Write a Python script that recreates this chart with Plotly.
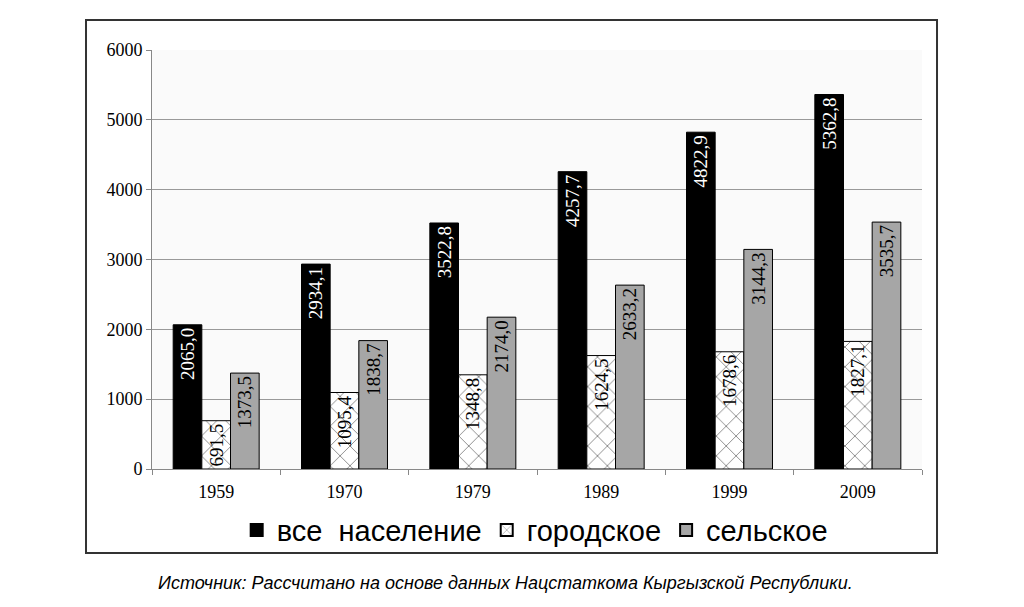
import plotly.graph_objects as go

years = ["1959", "1970", "1979", "1989", "1999", "2009"]
total = [2065.0, 2934.1, 3522.8, 4257.7, 4822.9, 5362.8]
urban = [691.5, 1095.4, 1348.8, 1624.5, 1678.6, 1827.1]
rural = [1373.5, 1838.7, 2174.0, 2633.2, 3144.3, 3535.7]
y_ticks = [0, 1000, 2000, 3000, 4000, 5000, 6000]

def fmt(v):
    return f"{v:.1f}".replace(".", ",")

serif = "Liberation Serif, Times New Roman, serif"
sans = "Liberation Sans, Arial, sans-serif"

fig = go.Figure()
fig.add_bar(name="все  население", x=years, y=total, text=[fmt(v) for v in total],
            marker=dict(color="black", line=dict(color="black", width=1)),
            textfont=dict(color="white", family=serif, size=19))
fig.add_bar(name="городское", x=years, y=urban, text=[fmt(v) for v in urban],
            marker=dict(color="white", line=dict(color="black", width=1),
                        pattern=dict(shape="x", fgcolor="black", bgcolor="white", size=14, solidity=0.12)),
            textfont=dict(color="black", family=serif, size=19))
fig.add_bar(name="сельское", x=years, y=rural, text=[fmt(v) for v in rural],
            marker=dict(color="#a6a6a6", line=dict(color="black", width=1)),
            textfont=dict(color="black", family=serif, size=19))

fig.update_traces(textposition="inside", textangle=-90, insidetextanchor="end",
                  cliponaxis=False)

fig.update_layout(
    width=1024, height=607,
    margin=dict(l=144, r=110, t=42, b=146),
    paper_bgcolor="white", plot_bgcolor="#fafafa",
    barmode="group", bargap=0.33, bargroupgap=0,
    uniformtext=dict(minsize=19, mode="show"),
    showlegend=True,
    legend=dict(orientation="h", x=0.497, xanchor="center", y=-0.146, yanchor="middle",
                font=dict(family=sans, size=29, color="black"), bgcolor="rgba(0,0,0,0)",
                itemsizing="constant"),
    xaxis=dict(type="category", tickson="boundaries", ticks="outside", ticklen=5,
               tickcolor="#888888", showline=True, linecolor="#888888", linewidth=1,
               ticklabelstandoff=6,
               tickfont=dict(family=serif, size=18, color="black"), showgrid=False),
    yaxis=dict(range=[0, 6000], tickvals=y_ticks, ticks="outside", ticklen=5,
               tickcolor="#888888", showline=True, linecolor="#888888", linewidth=1,
               gridcolor="#999999", gridwidth=1, zeroline=False,
               tickfont=dict(family=serif, size=18, color="black")),
    shapes=[dict(type="rect", xref="paper", yref="paper", x0=-0.0857, x1=1.0195,
                 y0=-0.2005, y1=1.0716, line=dict(color="#333333", width=2))],
    annotations=[dict(text="<i>Источник: Рассчитано на основе данных Нацстаткома Кыргызской Республики.</i>",
                      xref="paper", yref="paper", x=0.459, y=-0.272, xanchor="center",
                      yanchor="middle", showarrow=False,
                      font=dict(family=sans, size=18, color="black"))],
)

fig.write_html("out.html")
